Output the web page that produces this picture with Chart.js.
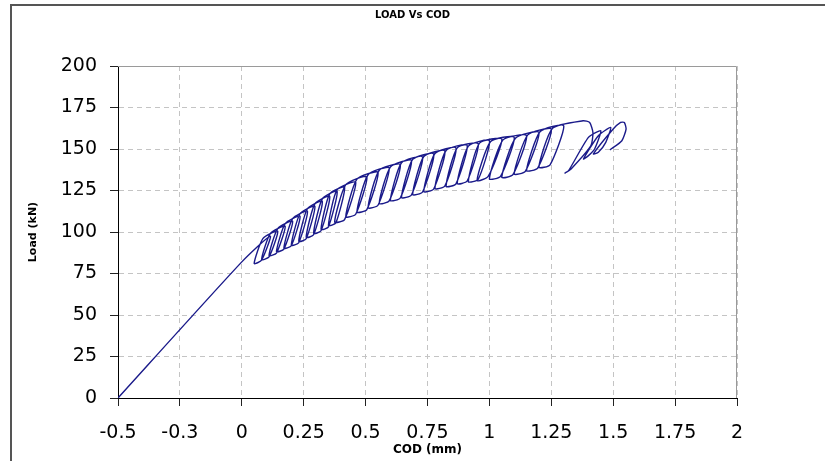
<!DOCTYPE html>
<html>
<head>
<meta charset="utf-8">
<script src="https://cdn.jsdelivr.net/npm/chart.js@4.4.0/dist/chart.umd.min.js"></script>
<style>
  html, body { margin: 0; padding: 0; background: #fff; }
  #wrap { position: relative; width: 825px; height: 461px; overflow: hidden; }
  #marco { position: absolute; left: 10px; top: 4px; right: 0; bottom: 0; border-left: 2px solid #555; border-top: 2px solid #555; }
  canvas { position: absolute; left: 0; top: 0; }
</style>
</head>
<body>
<div id="wrap">
  <div id="marco"></div>
  <canvas id="grafico" width="825" height="461"></canvas>
</div>
<script>
// COD (mm) y carga (kN), en el orden del ensayo
// cada fila: pico, descarga, valle, recarga
const codX = [
  -0.5, 0.0,
  0.115, 0.08, 0.05, 0.085,
  0.145, 0.11, 0.08, 0.115,
  0.175, 0.14, 0.11, 0.145,
  0.205, 0.17, 0.14, 0.175,
  0.235, 0.20, 0.17, 0.205,
  0.265, 0.23, 0.20, 0.235,
  0.295, 0.26, 0.23, 0.265,
  0.325, 0.29, 0.26, 0.295,
  0.355, 0.32, 0.29, 0.325,
  0.385, 0.35, 0.32, 0.355,
  0.415, 0.38, 0.35, 0.385,
  0.46, 0.415, 0.375, 0.42,
  0.505, 0.46, 0.42, 0.465,
  0.55, 0.505, 0.465, 0.51,
  0.595, 0.55, 0.51, 0.555,
  0.64, 0.595, 0.555, 0.60,
  0.685, 0.64, 0.60, 0.645,
  0.73, 0.685, 0.645, 0.69,
  0.775, 0.73, 0.69, 0.735,
  0.82, 0.775, 0.735, 0.78,
  0.865, 0.82, 0.78, 0.825,
  0.91, 0.865, 0.825, 0.87,
  0.955, 0.91, 0.87, 0.915,
  1.0, 0.955, 0.915, 0.96,
  1.05, 0.995, 0.95, 1.005,
  1.10, 1.045, 1.0, 1.055,
  1.15, 1.095, 1.05, 1.105,
  1.20, 1.145, 1.10, 1.155,
  1.25, 1.195, 1.15, 1.205,
  1.30, 1.245, 1.20, 1.255,
  1.378, 1.405, 1.418, 1.41,
  1.33, 1.305, 1.32, 1.40, 1.45,
  1.425, 1.40, 1.38, 1.44, 1.49,
  1.47, 1.44, 1.42, 1.50, 1.53, 1.545, 1.552, 1.535, 1.487
];
const loadKN = [
  0, 82,
  97.5, 83, 81, 96,
  100.5, 85, 83.4, 99,
  103.5, 87.3, 85.8, 102,
  106.5, 89.7, 88.2, 105,
  109.5, 91.7, 90.2, 108,
  112.5, 93.5, 92, 111,
  115.5, 95.9, 94.4, 114,
  118.5, 98.3, 96.8, 117,
  121.5, 100.7, 99.2, 120,
  124.5, 103.1, 101.6, 123,
  127, 105.5, 104, 125.5,
  130, 107.5, 106, 128.5,
  133.3, 110.7, 109.2, 131.8,
  136, 113.5, 112, 134.5,
  138.7, 116.1, 114.6, 137.2,
  140.6, 118.7, 117.2, 139.1,
  143.2, 120.5, 119, 141.7,
  145.2, 122.3, 120.8, 143.7,
  147, 124.1, 122.6, 145.5,
  148.8, 125.9, 124.4, 147.3,
  150.6, 127.7, 126.2, 149.1,
  152.2, 129, 127.5, 150.7,
  153.2, 130.7, 129.2, 151.7,
  155, 131.8, 130.3, 153.5,
  156, 133.5, 131, 154.5,
  157, 133.5, 132, 155.5,
  158, 134.5, 133, 156.5,
  160, 136.5, 135, 158.5,
  162, 138.5, 137, 160.5,
  164, 140.5, 139, 162.5,
  167, 166, 160, 152,
  138, 135.5, 137, 157, 161,
  150, 146, 144, 158, 163,
  154, 148, 147, 162, 166, 166, 162, 155, 149.5
];
const xTickLabels = ["-0.5", "-0.3", "0", "0.25", "0.5", "0.75", "1", "1.25", "1.5", "1.75", "2"];
const yTicks = [0, 25, 50, 75, 100, 125, 150, 175, 200];

let puntos = codX.map((x, i) => ({ x: x, y: loadKN[i] }));

// borde gris arriba y a la derecha del area del grafico
const bordeArea = {
  id: "bordeArea",
  afterDraw(chart) {
    const { ctx, chartArea } = chart;
    ctx.save();
    ctx.strokeStyle = "#9a9a9a";
    ctx.lineWidth = 1;
    ctx.beginPath();
    ctx.moveTo(chartArea.left, chartArea.top + 0.5);
    ctx.lineTo(chartArea.right - 0.5, chartArea.top + 0.5);
    ctx.lineTo(chartArea.right - 0.5, chartArea.bottom);
    ctx.stroke();
    ctx.restore();
  }
};

const fuenteTicks = { family: "DejaVu Sans", size: 19 };
const fuenteTitulo = { family: "DejaVu Sans", weight: "bold" };

const config = {
  type: "scatter",
  data: {
    datasets: [{
      data: puntos,
      showLine: true,
      borderColor: "#1a1a8a",
      borderWidth: 1.4,
      pointRadius: 0,
      tension: 0.2,
      fill: false
    }]
  },
  options: {
    responsive: false,
    animation: false,
    layout: { padding: 0 },
    plugins: {
      legend: { display: false },
      tooltip: { enabled: false },
      title: {
        display: true,
        text: "LOAD Vs COD",
        color: "#000",
        font: { ...fuenteTitulo, size: 10 },
        padding: { top: 9, bottom: 45 }
      }
    },
    scales: {
      x: {
        type: "linear",
        min: -0.5,
        max: 2,
        ticks: {
          stepSize: 0.25,
          autoSkip: false,
          maxRotation: 0,
          color: "#000",
          font: fuenteTicks,
          padding: 16,
          callback: (v, i) => xTickLabels[i]
        },
        grid: { color: "#c4c4c4", tickColor: "#222", tickLength: 8 },
        border: { color: "#000", width: 1, dash: [5, 4] },
        title: {
          display: true,
          text: "COD (mm)",
          color: "#000",
          font: { ...fuenteTitulo, size: 12 },
          padding: { top: 0, bottom: 4 }
        },
        afterFit: (s) => { s.height = 63; }
      },
      y: {
        min: 0,
        max: 200,
        afterBuildTicks: (s) => { s.ticks = yTicks.map(v => ({ value: v })); },
        ticks: {
          color: "#000",
          font: fuenteTicks,
          padding: 13
        },
        grid: { color: "#c4c4c4", tickColor: "#222", tickLength: 8 },
        border: { color: "#000", width: 1, dash: [5, 4] },
        title: {
          display: true,
          text: "Load (kN)",
          color: "#000",
          font: { ...fuenteTitulo, size: 11 },
          padding: { top: 27, bottom: 0 }
        },
        afterFit: (s) => { s.width = 118; }
      },
      // eje vacio a la derecha, solo para dejar el margen
      margen: {
        position: "right",
        min: 0,
        max: 1,
        grid: { display: false },
        ticks: { display: false },
        border: { display: false },
        afterFit: (s) => { s.width = 88; }
      }
    }
  },
  plugins: [bordeArea]
};

window.onload = () => {
  const grafico = new Chart("grafico", config);
};
</script>
</body>
</html>
